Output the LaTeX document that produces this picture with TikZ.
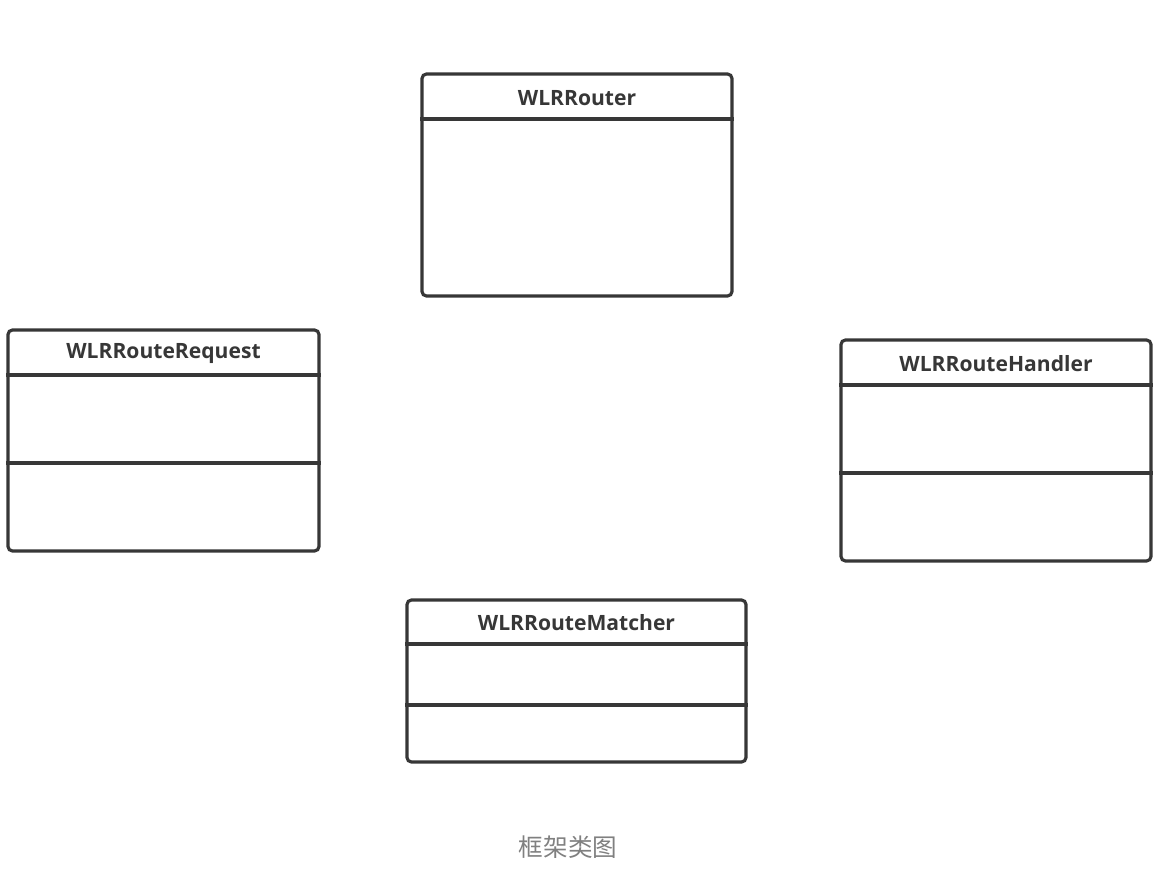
\documentclass[tikz,border=0pt]{standalone}
\usepackage{fontspec}
\setmainfont{Open Sans}
\newfontfamily\cjk{Noto Sans CJK SC}
\usetikzlibrary{positioning}

\definecolor{boxline}{RGB}{55,55,55}
\definecolor{captiongray}{RGB}{128,128,128}

\begin{document}
\begin{tikzpicture}[x=0.02cm, y=-0.02cm,
    classbox/.style={draw=boxline, line width=1.8pt, rounded corners=2.5pt, fill=white},
    classname/.style={font=\fontsize{12}{14}\selectfont\bfseries, text=boxline},
    divider/.style={draw=boxline, line width=1.8pt}]
            \useasboundingbox (0,0) rectangle (1158,874);

            % class boxes
            \node[classbox, minimum width=6.2cm, minimum height=4.44cm] (router) at (577,185) {};
            \node[classbox, minimum width=6.22cm, minimum height=4.42cm] (request) at (163.5,440.5) {};
            \node[classbox, minimum width=6.2cm, minimum height=4.42cm] (handler) at (996,450.5) {};
            \node[classbox, minimum width=6.78cm, minimum height=3.24cm] (matcher) at (576.5,681) {};

            % class names
            \node[classname] (routername) at (577,98) {WLRRouter};
            \node[classname] (requestname) at (163.5,354) {WLRRouteRequest};
            \node[classname] (handlername) at (996,364) {WLRRouteHandler};
            \node[classname] (matchername) at (576.5,623) {WLRRouteMatcher};

            % compartments
            \draw[divider] (router.west |- 0,119) -- (router.east |- 0,119);
            \draw[divider] (request.west |- 0,375) -- (request.east |- 0,375);
            \draw[divider] (request.west |- 0,463) -- (request.east |- 0,463);
            \draw[divider] (handler.west |- 0,385) -- (handler.east |- 0,385);
            \draw[divider] (handler.west |- 0,473) -- (handler.east |- 0,473);
            \draw[divider] (matcher.west |- 0,644) -- (matcher.east |- 0,644);
            \draw[divider] (matcher.west |- 0,705) -- (matcher.east |- 0,705);

            \node[font=\cjk\fontsize{14}{16}\selectfont, text=captiongray] (caption) at (568,847) {框架类图};
        \end{tikzpicture}
\end{document}
